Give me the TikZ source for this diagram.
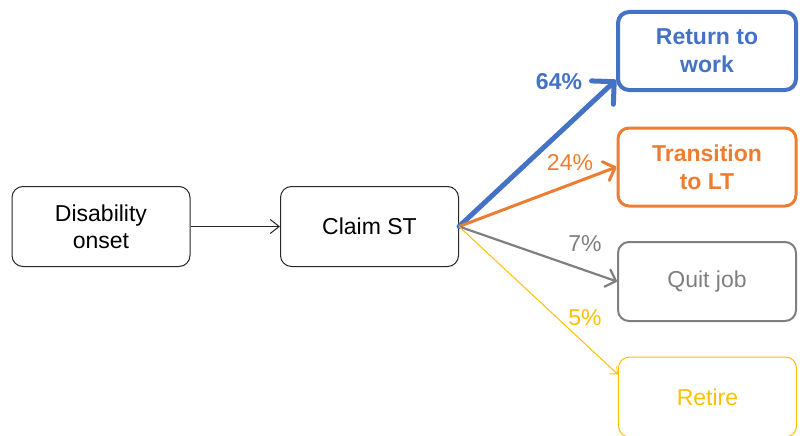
\documentclass[tikz,border=0pt]{standalone}
\usepackage{fontspec}
\setmainfont{Liberation Sans}
\usetikzlibrary{arrows.meta,calc}
\definecolor{cblue}{HTML}{4472C4}
\definecolor{corange}{HTML}{ED7D31}
\definecolor{cgray}{HTML}{7F7F7F}
\definecolor{cyellow}{HTML}{FFC000}
\tikzset{
  box/.style={draw, rounded corners=11pt, minimum width=178pt, minimum height=80pt, align=center, font=\fontsize{23}{27}\selectfont, inner sep=0pt},
  pct/.style={font=\fontsize{23}{27}\selectfont, inner sep=0pt},
}
\begin{document}
\begin{tikzpicture}[x=1pt,y=1pt]
\useasboundingbox (0,0) rectangle (808,-436);
\node[box, line width=1pt, draw=black!85] (dis) at (101,-226.5) {Disability\\onset};
\node[box, line width=1pt, draw=black!85] (claim) at (369.5,-226.5) {Claim ST};
\node[box, line width=4pt, draw=cblue, text=cblue, font=\fontsize{23}{28}\selectfont\bfseries, minimum width=178pt, minimum height=78pt] (ret) at (707,-51) {Return to\\work};
\node[box, line width=3pt, draw=corange, text=corange, font=\fontsize{23}{28}\selectfont\bfseries, minimum width=178pt, minimum height=78pt] (lt) at (707,-167) {Transition\\to LT};
\node[box, line width=2pt, draw=cgray, text=cgray, minimum width=178pt, minimum height=79pt] (quit) at (707,-281.5) {Quit job};
\node[box, line width=1pt, draw=cyellow, text=cyellow, minimum width=178pt, minimum height=80pt] (retire) at (707.5,-397) {Retire};
\draw[line width=1pt, black!85, -{Straight Barb[length=9pt,width=14pt]}] (dis) -- (claim);
\draw[line width=5pt, cblue, line cap=round, -{Straight Barb[length=16pt,width=32pt,round]}] (claim.east) -- ([yshift=12pt]ret.south west);
\draw[line width=3pt, corange, -{Straight Barb[length=10pt,width=20pt,round]}] (claim.east) -- (lt.west);
\draw[line width=2.2pt, cgray, -{Straight Barb[length=9pt,width=18pt,round]}] (claim.east) -- (quit.west);
\draw[line width=1pt, cyellow, -{Straight Barb[length=6pt,width=11pt]}] (claim.east) -- ([yshift=-18pt]retire.north west);
\node[pct, text=cblue, font=\fontsize{23}{27}\selectfont\bfseries] (p64) at (559,-82) {64\%};
\node[pct, text=corange] (p24) at (570,-163) {24\%};
\node[pct, text=cgray] (p7) at (585,-244) {7\%};
\node[pct, text=cyellow] (p5) at (585,-318) {5\%};
\end{tikzpicture}
\end{document}
